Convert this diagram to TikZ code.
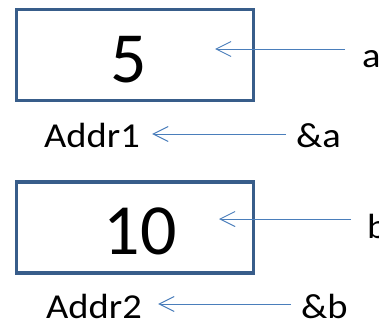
\documentclass[tikz,border=0pt]{standalone}
\usepackage{fontspec}
\setmainfont{Carlito}
\usetikzlibrary{arrows.meta}
\definecolor{boxblue}{HTML}{385D8A}
\definecolor{ptrblue}{HTML}{4A7EBB}
% labels are set slightly wide
\newcommand{\widelabel}[1]{\scalebox{1.1}[1]{#1}}
\tikzset{
  cell/.style={draw=boxblue, line width=3.3pt, minimum width=237pt, minimum height=91pt, inner sep=0pt},
  value/.style={font=\fontsize{72}{72}\selectfont, inner sep=0pt},
  lbl/.style={font=\fontsize{35}{35}\selectfont, inner sep=0pt},
  ptr/.style={draw=ptrblue, line width=1pt, -{Straight Barb[length=15pt,width=15pt,line width=1pt]}}
}
\begin{document}
\begin{tikzpicture}[x=1pt,y=-1pt]
  \useasboundingbox (0,0) rectangle (379,321);
  % variable a
  \node[cell] (boxa) at (135,55) {};
  \node[value] (vala) at (128.5,60) {5};
  \coordinate (ta) at (215,49);
  \node[lbl, anchor=base west] (na) at (362,67) {\widelabel{a}};
  \draw[ptr, shorten <=17pt] (na.west |- ta) -- (ta);
  \node[lbl, anchor=base west] (addr1) at (44,147) {\widelabel{Addr1}};
  \node[lbl, anchor=base west] (ampa) at (296,147) {\widelabel{\&a}};
  \coordinate (ra) at (0,134);
  \draw[ptr, shorten <=10pt, shorten >=12pt] (ampa.west |- ra) -- (addr1.east |- ra);
  % variable b
  \node[cell] (boxb) at (135,227.5) {};
  \node[value] (valb) at (140,231.5) {10};
  \coordinate (tb) at (219,219);
  \node[lbl, anchor=base west] (nb) at (367,238) {\widelabel{b}};
  \draw[ptr, shorten <=16pt] (nb.west |- tb) -- (tb);
  \node[lbl, anchor=base west] (addr2) at (46,318) {\widelabel{Addr2}};
  \node[lbl, anchor=base west] (ampb) at (301,318) {\widelabel{\&b}};
  \coordinate (rb) at (0,304);
  \draw[ptr, shorten <=10pt, shorten >=16pt] (ampb.west |- rb) -- (addr2.east |- rb);
\end{tikzpicture}
\end{document}
